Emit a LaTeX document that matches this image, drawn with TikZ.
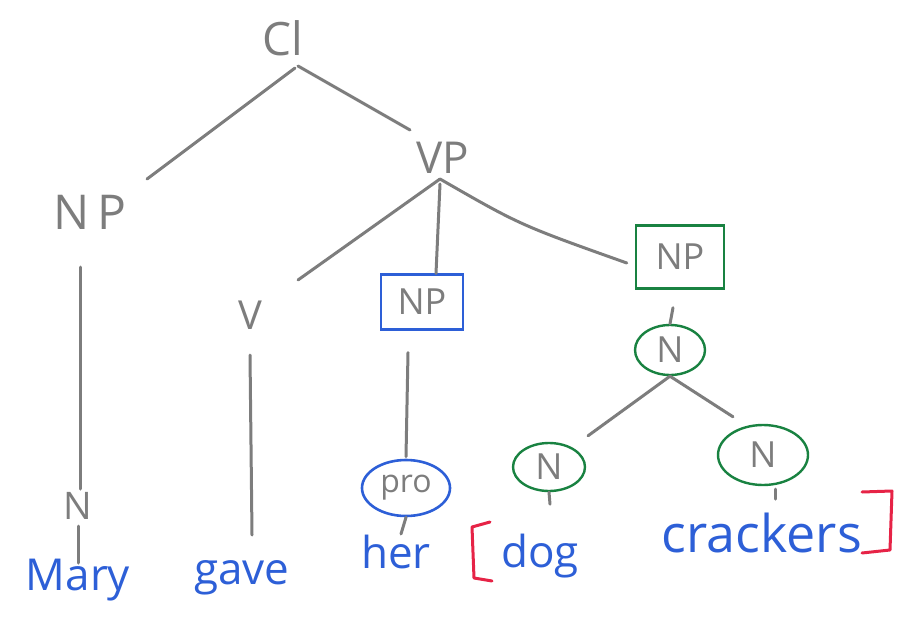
\documentclass[tikz,border=0pt]{standalone}
\usepackage{fontspec}
\setmainfont{Open Sans}
\usetikzlibrary{calc,shapes.geometric}
\definecolor{pencil}{RGB}{125,125,125}
\definecolor{penblue}{RGB}{45,95,215}
\definecolor{pengreen}{RGB}{25,130,65}
\definecolor{penred}{RGB}{230,35,70}
\tikzset{
  lbl/.style={text=pencil, font=\fontsize{40}{40}\selectfont, inner sep=0pt},
  word/.style={text=penblue, font=\fontsize{44}{44}\selectfont, inner sep=0pt},
  edge/.style={draw=pencil, line width=3pt, line cap=round},
  bluebox/.style={draw=penblue, line width=2.2pt, minimum width=82pt, minimum height=55pt},
  greenbox/.style={draw=pengreen, line width=2.4pt, minimum width=88pt, minimum height=63pt},
  greenell/.style={ellipse, draw=pengreen, line width=2.4pt},
  blueell/.style={ellipse, draw=penblue, line width=2.6pt},
  brk/.style={draw=penred, line width=3pt, line cap=round, line join=round}
}
\begin{document}
\begin{tikzpicture}[x=1pt,y=-1pt]
\useasboundingbox (0,0) rectangle (910,621);
% labels
\node[lbl, font=\fontsize{46}{46}\selectfont] (cl) at (283,38) {Cl};
\node[lbl, font=\fontsize{48}{48}\selectfont] (np1) at (90,212) {N\,P};
\node[lbl, font=\fontsize{44}{44}\selectfont] (vp) at (443,158) {VP};
\node[lbl] (v) at (250,315) {V};
\node[lbl, font=\fontsize{38}{38}\selectfont] (nm) at (78,506) {N};
\node[bluebox, lbl, font=\fontsize{36}{36}\selectfont, draw=penblue] (np2) at (422,302) {NP};
\node[greenbox, lbl, font=\fontsize{36}{36}\selectfont, draw=pengreen] (np3) at (680,257) {NP};
\node[greenell, lbl, font=\fontsize{36}{36}\selectfont, draw=pengreen, minimum width=70pt, minimum height=50pt] (n0) at (670,350) {N};
\node[greenell, lbl, font=\fontsize{36}{36}\selectfont, draw=pengreen, minimum width=72pt, minimum height=48pt] (n1) at (549,467) {N};
\node[greenell, lbl, font=\fontsize{36}{36}\selectfont, draw=pengreen, minimum width=90pt, minimum height=60pt] (n2) at (763,455) {N};
\node[blueell, lbl, font=\fontsize{32}{32}\selectfont, draw=penblue, minimum width=88pt, minimum height=56pt] (pro) at (406,488) {pro};
% words
\node[word] (mary) at (78,580) {Mary};
\node[word] (gave) at (242,578) {gave};
\node[word] (her) at (396,552) {her};
\node[word] (dog) at (540,556) {dog};
\node[word, font=\fontsize{52}{52}\selectfont] (crackers) at (762,533) {crackers};
% edges
\draw[edge] ($(cl)+(12,30)$) -- ($(np1)+(57,-33)$);
\draw[edge] ($(cl)+(15,28)$) -- ($(vp)+(-33,-28)$);
\draw[edge] ($(vp)+(-3,21)$) -- ($(v)+(48,-35)$);
\draw[edge] ($(vp)+(-3,26)$) -- (np2.north -| 436,0) ;
\draw[edge] ($(vp)+(-3,21)$) .. controls (520,225) .. ($(np3.west)+(-8,6)$);
\draw[edge] ($(np1)+(-10,55)$) -- ($(nm)+(2,-17)$);
\draw[edge] ($(nm)+(0,20)$) -- ($(mary)+(0,-17)$);
\draw[edge] ($(v)+(0,40)$) -- ($(gave)+(10,-43)$);
\draw[edge] ($(np2.south)+(-14,22)$) -- ($(pro.north)+(0,-2)$);
\draw[edge] (pro.south) -- ($(her)+(5,-18)$);
\draw[edge] ($(np3.south)+(-7,18)$) -- (n0.north);
\draw[edge] (n0.south) -- ($(n1.north)+(39,-6)$);
\draw[edge] (n0.south) -- ($(n2.north)+(-30,-7)$);
\draw[edge] (n1.south) -- ($(n1.south)+(1,12)$);
\draw[edge] ($(n2.south)+(12,3)$) -- ($(n2.south)+(12,13)$);
% brackets
\draw[brk] ($(dog)+(-50,-34)$) -- ($(dog)+(-68,-29)$) -- ($(dog)+(-66,22)$) -- ($(dog)+(-48,25)$);
\draw[brk] ($(crackers)+(100,-41)$) -- ($(crackers)+(130,-42)$) -- ($(crackers)+(128,17)$) -- ($(crackers)+(100,20)$);
\end{tikzpicture}
\end{document}
